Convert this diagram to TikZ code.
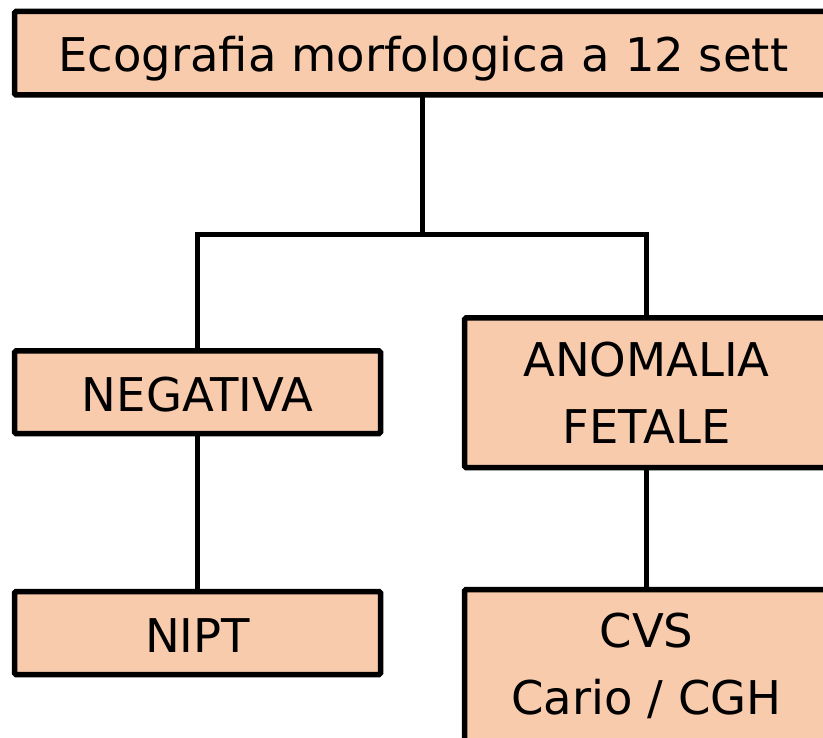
\documentclass[tikz,border=0pt]{standalone}
\usepackage{fontspec}
\setmainfont{DejaVu Sans}
\definecolor{boxfill}{HTML}{F8CBAD}
\begin{document}
\begin{tikzpicture}[x=1pt,y=1pt,
  box/.style={draw=black, fill=boxfill, line width=5.5pt, rounded corners=1.5pt,
    inner sep=0pt, outer sep=0pt, align=center,
    font=\fontsize{46.5}{67}\selectfont},
  onel/.style={text height=39pt, text depth=0pt},
  link/.style={draw=black, line width=5.5pt, line join=miter}]
\useasboundingbox (0,0) rectangle (823,-738);
\clip (0,0) rectangle (823,-738);
\node[box, onel, text height=36.5pt, minimum width=817.5pt, minimum height=83.5pt] (top) at (423.25,-53.25) {Ecografia morfologica a 12 sett};
\node[box, onel, minimum width=366pt, minimum height=82.5pt] (neg) at (197.5,-392.25) {NEGATIVA};
\node[box, minimum width=364pt, minimum height=149.5pt] (ano) at (646.5,-392.75) {ANOMALIA\\FETALE};
\node[box, onel, minimum width=366pt, minimum height=83pt] (nipt) at (197.5,-633) {NIPT};
\node[box, minimum width=364pt, minimum height=152.5pt] (cvs) at (646.5,-665.75) {CVS\\Cario / CGH};
\coordinate (mid) at (422.5,-234.5);
\draw[link] (top.south -| mid) -- (mid);
\draw[link] (neg.north) -- (neg.north |- mid) -- (ano.north |- mid) -- (ano.north);
\draw[link] (neg.south) -- (nipt.north);
\draw[link] (ano.south) -- (cvs.north);
\end{tikzpicture}
\end{document}
